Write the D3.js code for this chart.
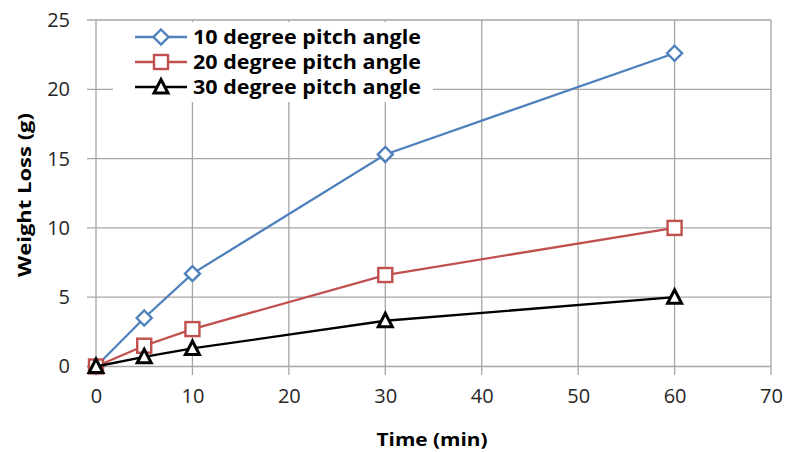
<!DOCTYPE html>
<html><head><meta charset="utf-8">
<script src="https://cdn.jsdelivr.net/npm/d3@7"></script>
<style>body{margin:0;background:#fff;} svg{display:block;}</style>
</head><body>
<svg id="c" width="785" height="452"></svg>
<script>
const time = [0, 5, 10, 30, 60];
const loss10 = [0, 3.5, 6.7, 15.3, 22.6];
const loss20 = [0, 1.5, 2.7, 6.6, 10.0];
const loss30 = [0, 0.7, 1.3, 3.3, 5.0];
const seriesNames = ["10 degree pitch angle", "20 degree pitch angle", "30 degree pitch angle"];
const xTicks = [0, 10, 20, 30, 40, 50, 60, 70];
const yTicks = [0, 5, 10, 15, 20, 25];

const series = [
  {name: seriesNames[0], values: loss10, color: "#4F81BD", marker: "diamond"},
  {name: seriesNames[1], values: loss20, color: "#C0504D", marker: "square"},
  {name: seriesNames[2], values: loss30, color: "#000000", marker: "triangle"}
];

const svg = d3.select("#c");
const x = d3.scaleLinear().domain([0, 70]).range([96, 771]);
const y = d3.scaleLinear().domain([0, 25]).range([366.5, 20]);
const font = "'Open Sans', sans-serif";
const grid = "#a6a6a6";

// gridlines
svg.append("g").selectAll("line").data(yTicks).join("line")
  .attr("x1", 87).attr("x2", x(70)).attr("y1", d => y(d)).attr("y2", d => y(d))
  .attr("stroke", grid).attr("stroke-width", 1.3);
svg.append("g").selectAll("line").data(xTicks).join("line")
  .attr("x1", d => x(d)).attr("x2", d => x(d)).attr("y1", y(25)).attr("y2", 375)
  .attr("stroke", grid).attr("stroke-width", 1.3);

// axes labels via d3 axes
const xAxis = svg.append("g").attr("transform", `translate(0,${y(0)})`)
  .call(d3.axisBottom(x).tickValues(xTicks).tickSize(0).tickPadding(22));
const yAxis = svg.append("g").attr("transform", `translate(${x(0)},0)`)
  .call(d3.axisLeft(y).tickValues(yTicks).tickSize(0).tickPadding(26));
[xAxis, yAxis].forEach(a => {
  a.select(".domain").remove();
  a.selectAll("text").attr("font-family", font).attr("font-size", 20).attr("fill", "#262626");
});

// legend background
svg.append("rect").attr("x", 113).attr("y", 22).attr("width", 320).attr("height", 80).attr("fill", "#fff");

const line = d3.line().x((d, i) => x(time[i])).y(d => y(d));

function drawMarker(g, type, cx, cy, color) {
  if (type === "diamond") {
    g.append("path").attr("d", `M${cx},${cy-7.5}L${cx+7.5},${cy}L${cx},${cy+7.5}L${cx-7.5},${cy}Z`)
      .attr("fill", "#fff").attr("stroke", color).attr("stroke-width", 2.4);
  } else if (type === "square") {
    g.append("rect").attr("x", cx-7).attr("y", cy-7).attr("width", 14).attr("height", 14)
      .attr("fill", "#fff").attr("stroke", color).attr("stroke-width", 2.4);
  } else {
    g.append("path").attr("d", `M${cx},${cy-7.5}L${cx+7},${cy+6}L${cx-7},${cy+6}Z`)
      .attr("fill", "#fff").attr("stroke", color).attr("stroke-width", 3).attr("stroke-linejoin", "miter");
  }
}

series.forEach(s => {
  const g = svg.append("g");
  g.append("path").datum(s.values).attr("d", line).attr("fill", "none")
    .attr("stroke", s.color).attr("stroke-width", 2.3);
  s.values.forEach((v, i) => drawMarker(g, s.marker, x(time[i]), y(v), s.color));
});

// legend
series.forEach((s, i) => {
  const ly = 37 + i * 25;
  const g = svg.append("g");
  g.append("line").attr("x1", 135).attr("x2", 187).attr("y1", ly).attr("y2", ly)
    .attr("stroke", s.color).attr("stroke-width", 2.3);
  drawMarker(g, s.marker, 161, ly, s.color);
  g.append("text").attr("x", 193).attr("y", ly).attr("dy", "0.35em")
    .attr("font-family", font).attr("font-size", 19).attr("font-weight", "bold")
    .attr("textLength", 228).attr("lengthAdjust", "spacingAndGlyphs")
    .attr("fill", "#000").text(s.name);
});

// axis titles
svg.append("text").attr("x", 432).attr("y", 446)
  .attr("text-anchor", "middle").attr("font-family", font).attr("font-size", 18).attr("font-weight", "bold")
  .attr("textLength", 111).attr("lengthAdjust", "spacingAndGlyphs")
  .text("Time (min)");
svg.append("text").attr("transform", `translate(31,${195}) rotate(-90)`)
  .attr("text-anchor", "middle").attr("font-family", font).attr("font-size", 18).attr("font-weight", "bold")
  .attr("textLength", 164).attr("lengthAdjust", "spacingAndGlyphs")
  .text("Weight Loss (g)");
</script>
</body></html>
